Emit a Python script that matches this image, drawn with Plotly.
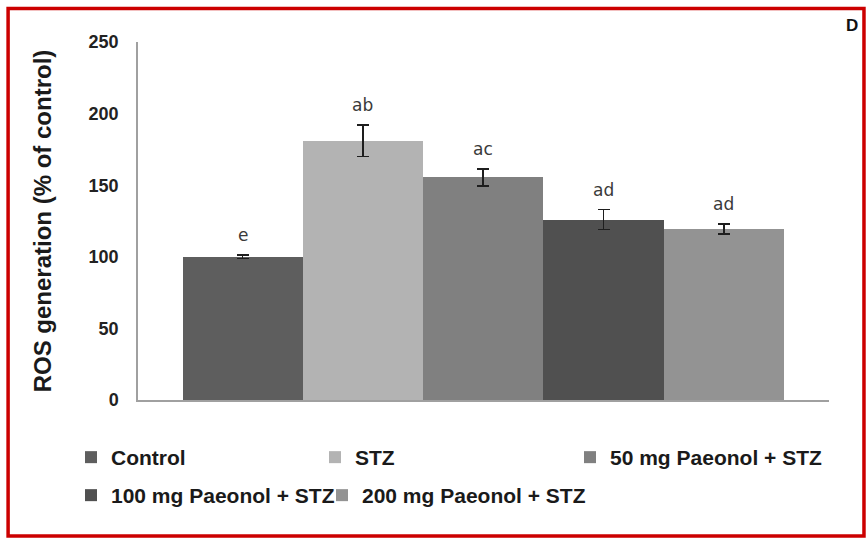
import plotly.graph_objects as go

groups = ["Control", "STZ", "50 mg Paeonol + STZ", "100 mg Paeonol + STZ", "200 mg Paeonol + STZ"]
means = [100, 181, 155.5, 126, 119.4]
errors = [1.3, 11, 6, 7, 3.5]
letters = ["e", "ab", "ac", "ad", "ad"]
colors = ["#5e5e5e", "#b3b3b3", "#808080", "#505050", "#939393"]
legend_ids = ["legend", "legend2", "legend3", "legend4", "legend5"]
y_ticks = [0, 50, 100, 150, 200, 250]

W, H = 867, 539
ml, mr, mt, mb = 137.5, 38, 42, 139
pw, ph = W - ml - mr, H - mt - mb

def px_x(p):
    return (p - ml) / pw

def px_y(p):
    return (H - mb - p) / ph

fig = go.Figure()
for g, m, e, c, lg in zip(groups, means, errors, colors, legend_ids):
    fig.add_trace(go.Bar(
        x=[g], y=[m], name=g, legend=lg,
        marker=dict(color=c, line=dict(width=0)),
        error_y=dict(type="data", array=[e], visible=True, color="#1e1e1e", thickness=1.6, width=6),
        width=1.0,
    ))

for g, m, e, t in zip(groups, means, errors, letters):
    fig.add_annotation(x=g, y=m + e, text=t, showarrow=False, yanchor="bottom", yshift=8,
                       font=dict(family="DejaVu Sans", size=17, color="#3a3a3a"))

fig.add_annotation(xref="paper", yref="paper", x=px_x(860), y=px_y(14), text="D",
                   showarrow=False, font=dict(family="Liberation Sans", size=17, color="#111", weight="bold"))

fig.add_shape(type="rect", xref="paper", yref="paper",
              x0=px_x(7.5), x1=px_x(864), y0=px_y(536), y1=px_y(8.5),
              line=dict(color="#cc0000", width=3.5), fillcolor="rgba(0,0,0,0)", layer="above")

legend_font = dict(family="Liberation Sans", size=21, color="#1a1a1a", weight="bold")
# legend anchor positions (pixels from top-left) for each entry
leg_pos = [(71, 437), (315, 437), (570, 437), (71, 475), (322, 475)]
legends = {}
for lg, (lx, ly) in zip(legend_ids, leg_pos):
    legends[lg] = dict(orientation="h", xref="container", yref="container", x=lx / W, y=1 - ly / H,
                       xanchor="left", yanchor="top", font=legend_font, bgcolor="rgba(0,0,0,0)")

fig.update_layout(
    width=W, height=H,
    margin=dict(l=ml, r=mr, t=mt, b=mb, autoexpand=False),
    paper_bgcolor="white", plot_bgcolor="white",
    barmode="overlay", bargap=0,
    showlegend=True,
    xaxis=dict(range=[-0.87, 4.874], showticklabels=False, showgrid=False, zeroline=False,
               showline=True, linecolor="#a0a0a0", linewidth=1.5, ticks="", fixedrange=True),
    yaxis=dict(range=[0, 250], tickvals=y_ticks, showgrid=False, zeroline=False,
               showline=True, linecolor="#a0a0a0", linewidth=1.5, ticks="",
               ticklabelstandoff=14,
               tickfont=dict(family="Liberation Sans", size=18, color="#222", weight="bold"),
               title=dict(text="ROS generation (% of control)", standoff=30,
                          font=dict(family="Liberation Sans", size=24, color="#1a1a1a", weight="bold"))),
    font=dict(family="Liberation Sans"),
    **legends,
)

fig.write_html("out.html", config={"displayModeBar": False},
               post_script="document.body.style.margin='0';document.body.style.overflow='hidden';")
